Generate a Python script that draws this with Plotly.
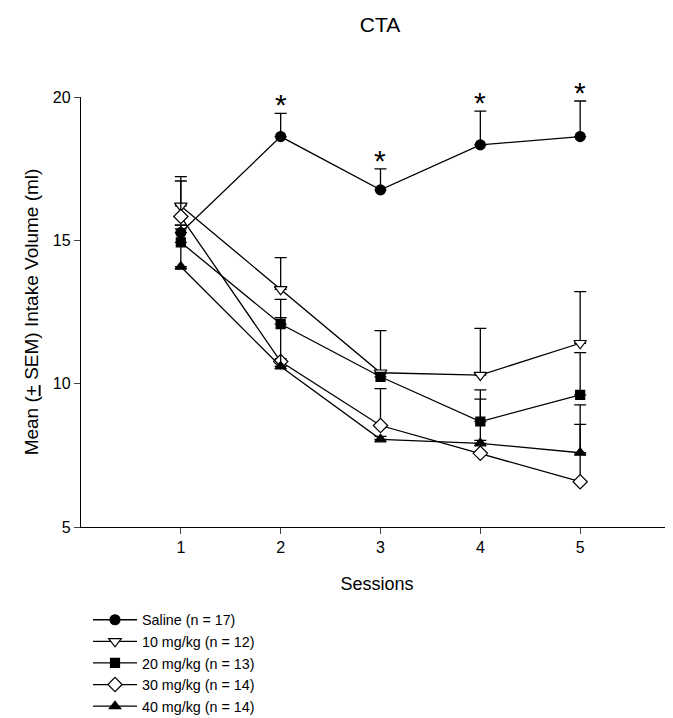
import plotly.graph_objects as go

sessions = [1, 2, 3, 4, 5]
series_names = ["Saline (n = 17)", "10 mg/kg (n = 12)", "20 mg/kg (n = 13)",
                "30 mg/kg (n = 14)", "40 mg/kg (n = 14)"]
saline = [15.27, 18.62, 16.76, 18.33, 18.62]
mg10 = [16.20, 13.29, 10.38, 10.30, 11.41]
mg20 = [14.93, 12.08, 10.24, 8.68, 9.61]
mg30 = [15.83, 10.77, 8.54, 7.57, 6.58]
mg40 = [14.08, 10.60, 8.06, 7.92, 7.59]
sem_saline = [0.26, 0.81, 0.73, 1.18, 1.24]
sem_10 = [1.02, 1.11, 1.47, 1.63, 1.80]
sem_20 = [0.60, 0.86, 0.10, 1.10, 1.47]
sem_30 = [1.24, 0.10, 1.29, 1.89, 2.00]
sem_40 = [1.32, 1.70, 0.10, 0.10, 1.67]
star_sessions = [2, 3, 4, 5]

values = [saline, mg10, mg20, mg30, mg40]
sems = [sem_saline, sem_10, sem_20, sem_30, sem_40]
symbols = ["circle", "triangle-down", "square", "diamond", "triangle-up"]
fills = ["black", "white", "black", "white", "black"]
sizes = [10, 11, 9, 11, 10]

# page body has an 8px margin, so the figure is sized/offset to compensate
W, H = 665, 710
L, T, B = 73, 89, 191

fig = go.Figure()
for name, v, s, sym, fc, sz in zip(series_names, values, sems, symbols, fills, sizes):
    fig.add_trace(go.Scatter(
        x=sessions, y=v, name=name, mode="lines+markers",
        line=dict(color="black", width=1.3),
        marker=dict(symbol=sym, size=sz, color=fc, line=dict(color="black", width=1.2)),
        error_y=dict(type="data", array=s, arrayminus=[0]*len(s), symmetric=False,
                     color="black", thickness=1.3, width=6),
    ))

for sx in star_sessions:
    i = sessions.index(sx)
    fig.add_annotation(x=sx, y=saline[i] + sem_saline[i], text="*", showarrow=False,
                       yanchor="bottom", yshift=-10,
                       font=dict(size=30, color="black", family="Arial, Liberation Sans"))

fig.update_layout(
    width=W, height=H,
    margin=dict(l=L, r=0, t=T, b=B, autoexpand=False),
    paper_bgcolor="white", plot_bgcolor="white",
    font=dict(family="Arial, Liberation Sans", size=15, color="black"),
    title=dict(text="CTA", x=372 / W, xanchor="center", y=1 - 17 / H, yanchor="middle",
               font=dict(size=21)),
    showlegend=True,
    legend=dict(x=(80 - L) / (W - L), y=-0.179, xanchor="left", yanchor="top", tracegroupgap=0,
                font=dict(size=14.3), bgcolor="rgba(0,0,0,0)", itemwidth=44),
)
fig.update_xaxes(range=[0, 5.93], tickvals=sessions, ticks="outside", ticklen=6,
                 showline=True, linecolor="black", linewidth=1.3, showgrid=False,
                 zeroline=False, title=dict(text="Sessions", standoff=22, font=dict(size=18)),
                 tickfont=dict(size=16))
fig.update_yaxes(range=[5, 20], tickvals=[5, 10, 15, 20], ticks="outside", ticklen=6,
                 showline=True, linecolor="black", linewidth=1.3, showgrid=False,
                 zeroline=False,
                 title=dict(text="Mean (<u>+</u> SEM) Intake Volume (ml)", standoff=9,
                            font=dict(size=19)),
                 tickfont=dict(size=16))

fig.write_html("out.html")
